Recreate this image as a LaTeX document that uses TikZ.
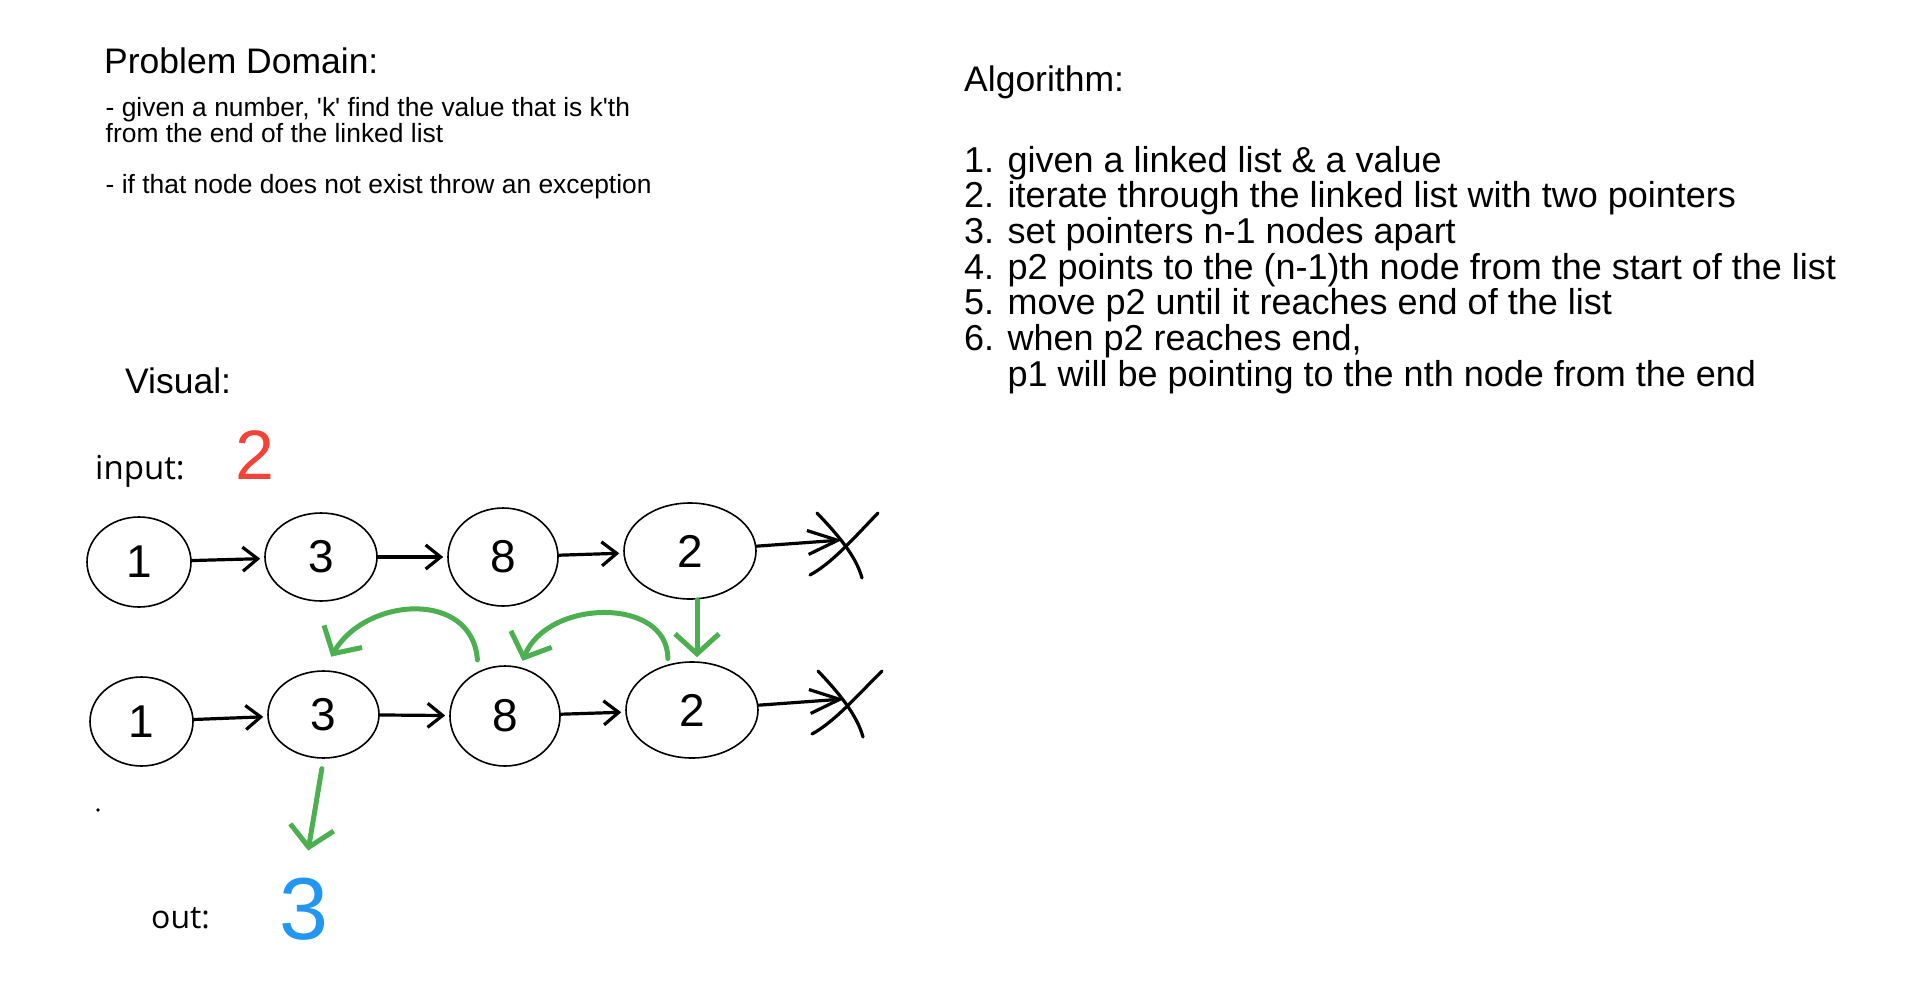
\documentclass[tikz,border=0pt]{standalone}
\usepackage{fontspec}
\setmainfont{Liberation Sans}[Ligatures=TeXOff]
\newfontfamily\labelfont{Open Sans}
\usetikzlibrary{arrows.meta,shapes.geometric}
\definecolor{penGreen}{RGB}{76,175,80}
\definecolor{penRed}{RGB}{244,67,54}
\definecolor{penBlue}{RGB}{33,150,243}
\tikzset{
  titletext/.style={anchor=base west, inner sep=0pt, font=\fontsize{35.5}{36}\selectfont},
  smalltext/.style={anchor=base west, inner sep=0pt, font=\fontsize{26.4}{26}\selectfont},
  listtext/.style={anchor=base west, inner sep=0pt, font=\fontsize{36}{36}\selectfont},
  sidetext/.style={anchor=base west, inner sep=0pt, font=\labelfont\fontsize{33}{33}\selectfont},
  cell/.style 2 args={ellipse, draw, line width=1.6pt, minimum width=#1, minimum height=#2,
    inner sep=0pt, font=\fontsize{46}{46}\selectfont},
  link/.style={line width=3.2pt, line cap=round, shorten >=4pt,
    -{Straight Barb[length=15pt,width=24pt]}},
  nulllink/.style={line width=3.2pt, line cap=round,
    -{Straight Barb[length=30pt,width=24pt]}},
  cross/.style={line width=3.2pt, line cap=round},
  hop/.style={draw=penGreen, line width=5pt, line cap=round, line join=round,
    -{Straight Barb[length=20pt,width=44pt]}}
}
\begin{document}
\begin{tikzpicture}[x=1pt,y=-1pt]
 \useasboundingbox (0,0) rectangle (1920,993);
 % problem domain
 \node[titletext] (domain) at (104,73.3) {Problem Domain:};
 \node[smalltext] (given) at (105.5,116.7) {- given a number, 'k' find the value that is k'th};
 \node[smalltext] (fromend) at (105.5,142.3) {from the end of the linked list};
 \node[smalltext] (missing) at (105.5,193.9) {- if that node does not exist throw an exception};
 % algorithm
 \node[titletext] (algo) at (964,91.7) {Algorithm:};
 \node[listtext] (s1) at (964,172) {1. given a linked list \& a value};
 \node[listtext] (s2) at (964,207.7) {2. iterate through the linked list with two pointers};
 \node[listtext] (s3) at (964,243.4) {3. set pointers n-1 nodes apart};
 \node[listtext] (s4) at (964,279.1) {4. p2 points to the (n-1)th node from the start of the list};
 \node[listtext] (s5) at (964,314.8) {5. move p2 until it reaches end of the list};
 \node[listtext] (s6) at (964,350.5) {6. when p2 reaches end,};
 \node[listtext] (s7) at (964,386.2) {\hphantom{6. }p1 will be pointing to the nth node from the end};
 % visual
 \node[titletext] (visual) at (125,393.5) {Visual:};
 \node[sidetext] (input) at (95,479) {input:};
 \node[inner sep=0pt, text=penRed, font=\fontsize{70}{70}\selectfont] (inval) at (255,455) {2};
 % first list
 \node[cell={104pt}{90pt}] (t1) at (139,562) {1};
 \node[cell={112pt}{88pt}] (t3) at (321,557) {3};
 \node[cell={110pt}{98pt}] (t8) at (503,557) {8};
 \node[cell={132pt}{96pt}] (t2) at (690,551) {2};
 \coordinate (tnull) at (842,540);
 \draw[link] (t1) -- (t3);
 \draw[link] (t3) -- (t8);
 \draw[link] (t8) -- (t2);
 \draw[nulllink] (t2) -- (tnull);
 \draw[cross] (817,513) .. controls (838,535) and (856,556) .. (862,578);
 \draw[cross] (878,513) .. controls (852,540) and (832,563) .. (810,575);
 % second list
 \node[cell={103pt}{89pt}] (b1) at (141.5,721.5) {1};
 \node[cell={111pt}{87pt}] (b3) at (323.5,714.5) {3};
 \node[cell={110pt}{100pt}] (b8) at (505,716) {8};
 \node[cell={132pt}{96pt}] (b2) at (692,710) {2};
 \coordinate (bnull) at (844,699);
 \draw[link] (b1) -- (b3);
 \draw[link] (b3) -- (b8);
 \draw[link] (b8) -- (b2);
 \draw[nulllink] (b2) -- (bnull);
 \draw[cross] (818,671) .. controls (839,693) and (857,715) .. (863,737);
 \draw[cross] (882,671) .. controls (855,698) and (834,722) .. (812,734);
 % pointer moves
 \draw[hop] ([xshift=7pt]t2.south) -- ([xshift=5pt,yshift=4pt]b2.north);
 \draw[hop] ([yshift=12pt]b8.122) .. controls +(-5,-70) and +(35,-60) .. ([yshift=14pt]b3.80);
 \draw[hop] ([yshift=6pt]b2.118) .. controls +(0,-62) and +(25,-62) .. ([yshift=7pt]b8.70);
 % output
 \fill (98,810) circle (1.8pt);
 \node[sidetext, font=\labelfont\fontsize{32}{32}\selectfont] (out) at (151,928) {out:};
 \node[inner sep=0pt, text=penBlue, font=\fontsize{88}{88}\selectfont] (outval) at (303.5,909.5) {3};
 \draw[hop, shorten <=10pt, shorten >=28pt] (b3.south) -- (outval.north);
\end{tikzpicture}
\end{document}
